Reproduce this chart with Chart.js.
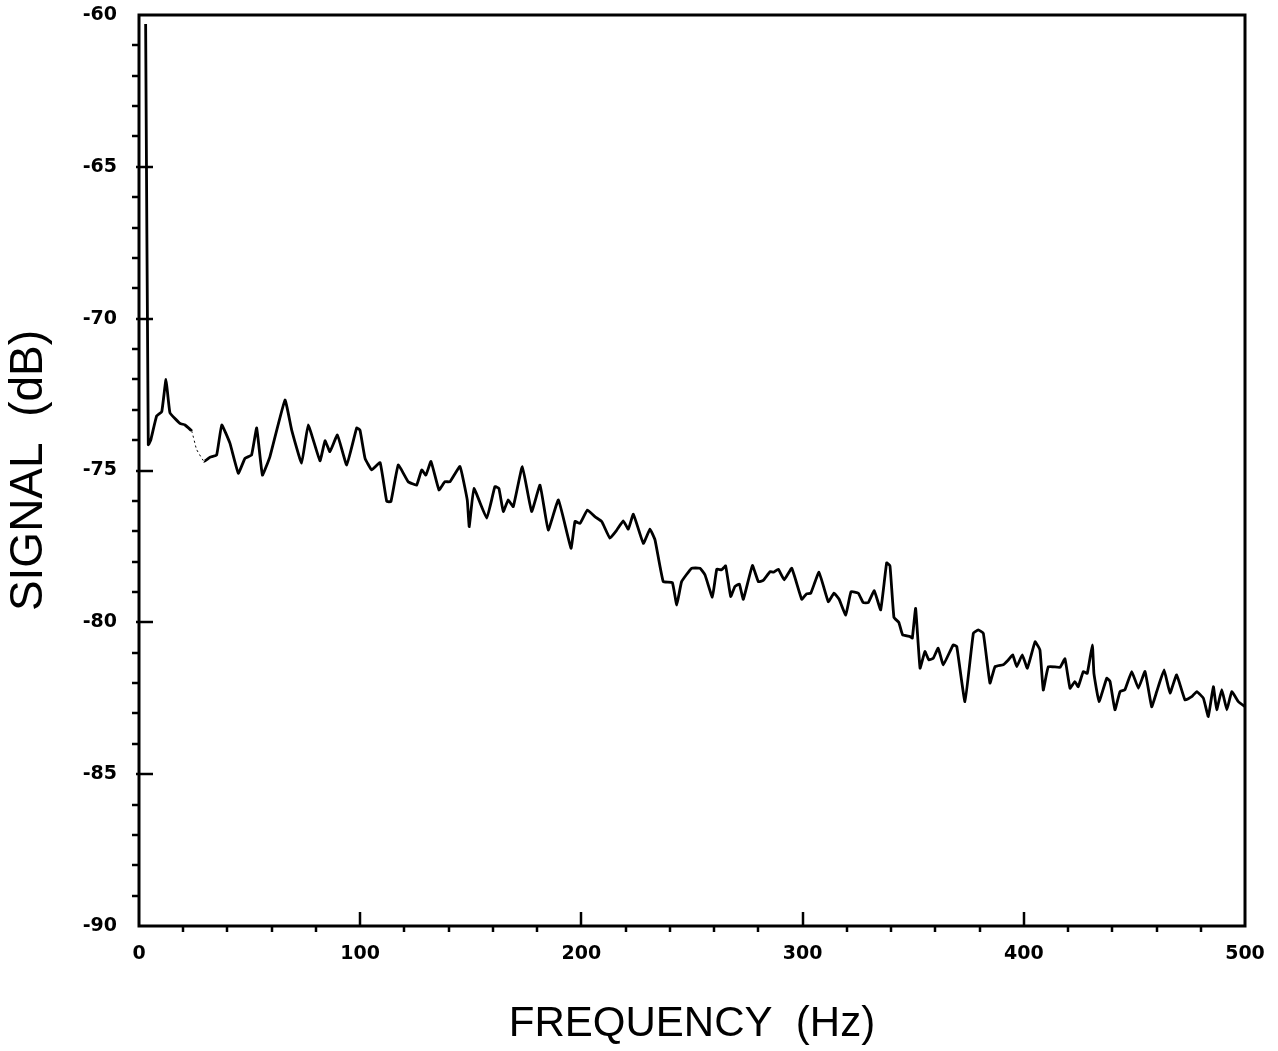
<!DOCTYPE html>
<html>
<head>
<meta charset="utf-8">
<script src="https://cdn.jsdelivr.net/npm/chart.js@4.4.1/dist/chart.umd.min.js"></script>
<style>
  html, body { margin: 0; padding: 0; background: #fff; }
  #wrap { width: 1278px; height: 1051px; position: relative; }
</style>
</head>
<body>
<div id="wrap"><canvas id="c"></canvas></div>
<script>
// ---- data ----
const freqs = [3, 4.2, 5.3, 8, 10.3, 12.2, 14, 18.5, 20.8, 23.8, 26, 29.4, 32.1, 35.1, 37.4, 41.1, 44.9, 47.9, 50.9, 53.2,
  55.8, 59.2, 66, 69, 73.5, 76.5, 81.8, 84.1, 86.3, 89.7, 93.9, 98.4, 99.9, 102.2, 105.2, 109, 112, 113.9, 117.2, 121.7,
  125.5, 127.8, 129.7, 132, 135.6, 138.3, 140.6, 145.1, 148.4, 149.3, 151.4, 157.2, 160.9, 162.7, 164.7, 166.9, 169.2, 173.3, 177.5, 181.3,
  185, 189.6, 195.3, 197.1, 199.4, 202.7, 206.1, 209.2, 212.9, 216, 218.9, 221.2, 223.5, 228, 231, 233.3, 237, 241.1, 243.1, 245.3,
  249.8, 253.6, 255.9, 259.2, 261.2, 263.4, 265.2, 267.5, 269.4, 271.4, 273.2, 277.3, 280, 282.2, 285.3, 286.8, 289, 291.7, 295.1, 299.6,
  301.8, 303.7, 307.4, 311.6, 314.2, 316.5, 319.5, 321.9, 325.2, 327.4, 329.7, 332.4, 335.3, 338, 339.5, 341.3, 343.5, 345.2, 348.6, 349.6,
  351.1, 353.1, 355.3, 357.1, 359.1, 361.3, 363.6, 368.1, 369.7, 373.4, 377.2, 379.4, 381.7, 384.7, 387, 390.7, 393, 395, 396.8, 399.3,
  401.6, 405.1, 407.3, 408.8, 411.1, 416.4, 418.6, 420.9, 423.1, 424.6, 426.9, 428.7, 431, 431.7, 434, 437.5, 439, 441.2, 443.5, 445.7,
  448.8, 451.8, 454.8, 457.8, 460.1, 463.4, 466.1, 469.1, 472.9, 475.9, 478.2, 481.2, 483.4, 485.7, 487.2, 489.5, 491.8, 494, 497, 500];
const signalDb = [-60.3, -74.15, -74.0, -73.2, -73.06, -72.0, -73.1, -73.45, -73.5, -73.7, -74.3, -74.7, -74.56, -74.49, -73.5, -74.1, -75.09, -74.6, -74.49, -73.6,
  -75.15, -74.54, -72.68, -73.66, -74.76, -73.5, -74.68, -74.02, -74.38, -73.83, -74.82, -73.6, -73.67, -74.6, -74.98, -74.74, -76.02, -76.02, -74.82, -75.37,
  -75.48, -74.98, -75.15, -74.7, -75.64, -75.37, -75.37, -74.87, -75.97, -76.85, -75.59, -76.57, -75.53, -75.59, -76.35, -75.97, -76.19, -74.87, -76.35, -75.48,
  -76.96, -75.97, -77.56, -76.68, -76.74, -76.3, -76.52, -76.68, -77.23, -76.96, -76.66, -76.93, -76.44, -77.4, -76.93, -77.29, -78.66, -78.69, -79.43, -78.66,
  -78.22, -78.22, -78.44, -79.17, -78.25, -78.27, -78.14, -79.15, -78.82, -78.74, -79.24, -78.13, -78.66, -78.62, -78.33, -78.35, -78.25, -78.6, -78.22, -79.24,
  -79.06, -79.04, -78.35, -79.32, -79.04, -79.24, -79.76, -78.99, -79.04, -79.35, -79.35, -78.96, -79.59, -78.04, -78.14, -79.84, -80.0, -80.41, -80.47, -80.52,
  -79.54, -81.51, -80.96, -81.24, -81.18, -80.85, -81.4, -80.74, -80.8, -82.61, -80.36, -80.25, -80.36, -82.0, -81.46, -81.4, -81.24, -81.07, -81.46, -81.07,
  -81.51, -80.64, -80.91, -82.23, -81.46, -81.48, -81.2, -82.17, -81.95, -82.12, -81.62, -81.68, -80.74, -81.68, -82.61, -81.84, -81.95, -82.88, -82.28, -82.22,
  -81.62, -82.17, -81.62, -82.78, -82.28, -81.57, -82.33, -81.73, -82.56, -82.45, -82.28, -82.5, -83.1, -82.12, -82.88, -82.22, -82.88, -82.28, -82.61, -82.78];
const xTickLabels = [0, 100, 200, 300, 400, 500];
const yTickLabels = [-90, -85, -80, -75, -70, -65, -60];
const xTitle = 'FREQUENCY  (Hz)';
const yTitle = 'SIGNAL  (dB)';
// faint stretch of the trace in the reference (Hz)
const faintFrom = 23.8, faintTo = 29.4;

const points = freqs.map((f, i) => ({ x: f, y: signalDb[i] }));

const framePlugin = {
  id: 'frame',
  afterDatasetsDraw(chart) {
    const { ctx, chartArea: a, scales: { x, y } } = chart;
    ctx.save();
    ctx.strokeStyle = '#000';
    ctx.lineCap = 'butt';
    ctx.lineWidth = 3;
    ctx.strokeRect(a.left, a.top, a.width, a.height);
    ctx.lineWidth = 2.5;
    const yMin = yTickLabels[0], yMax = yTickLabels[yTickLabels.length - 1];
    for (let v = yMin + 1; v < yMax; v += 1) {
      const py = Math.round(y.getPixelForValue(v));
      ctx.beginPath();
      if (yTickLabels.includes(v)) { ctx.moveTo(a.left - 3, py); ctx.lineTo(a.left + 14, py); }
      else { ctx.moveTo(a.left - 7, py); ctx.lineTo(a.left, py); }
      ctx.stroke();
    }
    const xMin = xTickLabels[0], xMax = xTickLabels[xTickLabels.length - 1];
    for (let v = xMin + 20; v < xMax; v += 20) {
      const px = Math.round(x.getPixelForValue(v));
      ctx.beginPath();
      if (xTickLabels.includes(v)) { ctx.moveTo(px, a.bottom); ctx.lineTo(px, a.bottom - 14); }
      else { ctx.moveTo(px, a.bottom); ctx.lineTo(px, a.bottom + 6); }
      ctx.stroke();
    }
    ctx.restore();
  }
};

new Chart(document.getElementById('c'), {
  type: 'line',
  data: {
    datasets: [{
      data: points,
      borderColor: '#000',
      borderWidth: 2.8,
      pointRadius: 0,
      tension: 0.1,
      fill: false,
      segment: {
        borderWidth: ctx => (ctx.p0.parsed.x >= faintFrom && ctx.p1.parsed.x <= faintTo) ? 1 : 2.8,
        borderDash: ctx => (ctx.p0.parsed.x >= faintFrom && ctx.p1.parsed.x <= faintTo) ? [2, 3] : []
      }
    }]
  },
  options: {
    responsive: true,
    maintainAspectRatio: false,
    animation: false,
    layout: { padding: { left: 0, right: 33, top: 15, bottom: 0 } },
    plugins: { legend: { display: false }, tooltip: { enabled: false } },
    scales: {
      x: {
        type: 'linear',
        min: 0, max: 500,
        afterFit: s => { s.height = 125; s.paddingLeft = 0; s.paddingRight = 0; },
        afterBuildTicks: s => { s.ticks = xTickLabels.map(v => ({ value: v })); },
        grid: { display: false, drawTicks: false },
        border: { display: false },
        ticks: { padding: 17, color: '#000', font: { family: 'DejaVu Sans', weight: 'bold', size: 19 }, maxRotation: 0 },
        title: { display: true, text: xTitle, color: '#000', padding: { top: 0, bottom: 1 },
                 font: { family: 'Liberation Sans', size: 42, lineHeight: 1.2 } }
      },
      y: {
        type: 'linear',
        min: -90, max: -60,
        afterFit: s => { s.width = 139; s.paddingTop = 0; s.paddingBottom = 0; },
        afterBuildTicks: s => { s.ticks = yTickLabels.map(v => ({ value: v })); },
        grid: { display: false, drawTicks: false },
        border: { display: false },
        ticks: { padding: 22, color: '#000', font: { family: 'DejaVu Sans', weight: 'bold', size: 19 } },
        title: { display: true, text: yTitle, color: '#000', padding: { top: 2, bottom: 0 },
                 font: { family: 'Liberation Sans', size: 46, lineHeight: 1.2 } }
      }
    }
  },
  plugins: [framePlugin]
});
</script>
</body>
</html>
